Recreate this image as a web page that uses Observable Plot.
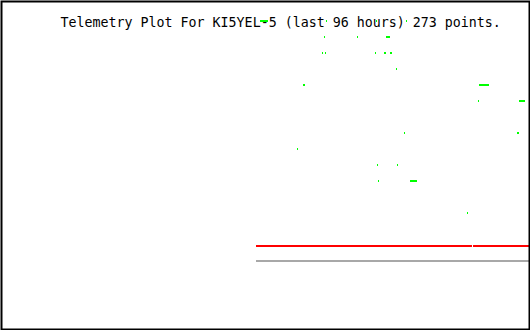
<!DOCTYPE html>
<html>
<head>
<meta charset="utf-8">
<script src="https://cdn.jsdelivr.net/npm/d3@7"></script>
<script src="https://cdn.jsdelivr.net/npm/@observablehq/plot@0.6"></script>
<style>
  html, body { margin: 0; padding: 0; background: #fff; }
  svg { display: block; }
</style>
</head>
<body>
<div id="chart"></div>
<script>
// Title
const title = "Telemetry Plot For KI5YEL-5 (last 96 hours) 273 points.";

// Green telemetry samples: start hour, end hour (relative to now), value level
const greenStart = [-48.91, -36.95, -27.89, -22.46,
                    -37.31, -31.34, -26.08,
                    -37.68, -37.13, -28.08, -26.45, -25.36,
                    -24.27,
                    -41.12, -9.24,
                    -9.42, -1.99,
                    -22.82, -2.35,
                    -42.20,
                    -27.71, -24.09,
                    -27.53, -21.74,
                    -11.41];
const greenEnd   = [-47.46, -36.77, -27.71, -22.28,
                    -37.13, -31.15, -25.36,
                    -37.49, -36.95, -27.89, -26.08, -25.00,
                    -24.09,
                    -40.75, -7.43,
                    -9.24, -0.91,
                    -22.64, -1.99,
                    -42.02,
                    -27.53, -23.91,
                    -27.35, -20.47,
                    -11.23];
const greenValue = [15, 15, 15, 15,
                    14, 14, 14,
                    13, 13, 13, 13, 13,
                    12,
                    11, 11,
                    10, 10,
                    8, 8,
                    7,
                    6, 6,
                    5, 5,
                    3];

// Red series (with a gap) and gray baseline series
const redStart = [-49.63, -10.32];
const redEnd   = [-10.51, 0];
const redValue = [0.94, 0.94];

const grayStart = [-49.63];
const grayEnd   = [0];
const grayValue = [0];

const green = greenStart.map((s, i) => ({t0: s, t1: greenEnd[i], v: greenValue[i]}));
const red = redStart.map((s, i) => ({t0: s, t1: redEnd[i], v: redValue[i]}));
const gray = grayStart.map((s, i) => ({t0: s, t1: grayEnd[i], v: grayValue[i]}));

const chart = Plot.plot({
  width: 530,
  height: 330,
  margin: 0,
  style: {background: "#fff", fontFamily: "DejaVu Sans Mono"},
  x: {domain: [-96, 0], range: [0, 530], axis: null},
  y: {domain: [0, 15], range: [260.5, 20.5], axis: null},
  marks: [
    Plot.text([title], {
      frameAnchor: "top-left", dx: 60, dy: 17, textAnchor: "start",
      fontSize: 13.3, fill: "#000", fontFamily: "DejaVu Sans Mono"
    }),
    Plot.ruleY(gray, {x1: "t0", x2: "t1", y: "v", stroke: "#a8a8a8", strokeWidth: 2}),
    Plot.ruleY(red, {x1: "t0", x2: "t1", y: "v", stroke: "#ff0000", strokeWidth: 2}),
    Plot.ruleY(green, {x1: "t0", x2: "t1", y: "v", stroke: "#00ff00", strokeWidth: 2}),
    Plot.frame({stroke: "#000", strokeWidth: 2, inset: 1})
  ]
});
document.getElementById("chart").appendChild(chart);
</script>
</body>
</html>
